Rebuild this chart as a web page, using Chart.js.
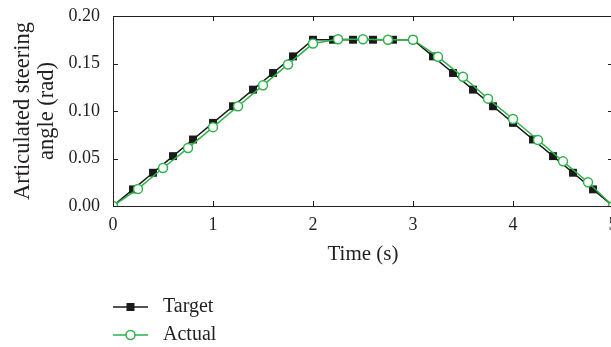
<!DOCTYPE html>
<html>
<head>
<meta charset="utf-8">
<script src="https://cdn.jsdelivr.net/npm/chart.js@4.4.0/dist/chart.umd.min.js"></script>
<style>
    html, body { margin: 0; padding: 0; background: #fff; overflow: hidden; }
    #wrap { width: 625px; height: 347px; }
</style>
</head>
<body>
<div id="wrap"><canvas id="myChart" width="625" height="347"></canvas></div>
<script>
// Dados
const targetTime = [0, 0.2, 0.4, 0.6, 0.8, 1.0, 1.2, 1.4, 1.6, 1.8, 2.0,
    2.2, 2.4, 2.6, 2.8, 3.0, 3.2, 3.4, 3.6, 3.8, 4.0, 4.2, 4.4, 4.6, 4.8, 5.0];
const targetAngle = [0, 0.0175, 0.035, 0.0525, 0.07, 0.0875, 0.105, 0.1225, 0.14, 0.1575, 0.175,
    0.175, 0.175, 0.175, 0.175, 0.175, 0.1575, 0.14, 0.1225, 0.105, 0.0875, 0.07, 0.0525, 0.035, 0.0175, 0];
const actualTime = [0, 0.25, 0.5, 0.75, 1.0, 1.25, 1.5, 1.75, 2.0, 2.25, 2.5,
    2.75, 3.0, 3.25, 3.5, 3.75, 4.0, 4.25, 4.5, 4.75, 5.0];
const actualAngle = [0, 0.018, 0.040, 0.061, 0.083, 0.105, 0.127, 0.149, 0.171, 0.1755, 0.1755,
    0.175, 0.175, 0.157, 0.136, 0.113, 0.0916, 0.0695, 0.047, 0.025, 0];
const xTicks = [0, 1, 2, 3, 4, 5];
const yTicks = [0, 0.05, 0.10, 0.15, 0.20];
const seriesNames = ["Target", "Actual"];

const serif = "'Liberation Serif', 'DejaVu Serif', serif";
const textColor = "#231f20";
const green = "#2db34a";

function toPoints(xs, ys) {
    return xs.map((x, i) => ({ x: x, y: ys[i] }));
}

// Moldura com marcas para dentro (todos os lados)
const frameTicks = {
    id: "frameTicks",
    afterDraw(chart) {
        const { ctx, chartArea: a, scales } = chart;
        const len = 5;
        ctx.save();
        ctx.strokeStyle = "#231f20";
        ctx.lineWidth = 1;
        ctx.strokeRect(a.left + 0.5, a.top + 0.5, a.right - a.left - 1, a.bottom - a.top);
        ctx.beginPath();
        xTicks.forEach((v) => {
            const px = Math.round(scales.x.getPixelForValue(v)) + 0.5;
            ctx.moveTo(px, a.bottom); ctx.lineTo(px, a.bottom - len);
            ctx.moveTo(px, a.top); ctx.lineTo(px, a.top + len);
        });
        yTicks.forEach((v) => {
            const py = Math.round(scales.y.getPixelForValue(v)) + 0.5;
            ctx.moveTo(a.left, py); ctx.lineTo(a.left + len, py);
            ctx.moveTo(a.right, py); ctx.lineTo(a.right - len, py);
        });
        ctx.stroke();
        ctx.restore();
    },
};

// Legenda vertical abaixo do gráfico
const legendaVertical = {
    id: "legendaVertical",
    afterDraw(chart) {
        const ctx = chart.ctx;
        const x0 = 113, x1 = 148, tx = 163;
        const ys = [307, 335];
        ctx.save();
        chart.data.datasets.forEach((ds, i) => {
            const y = ys[i];
            ctx.strokeStyle = ds.borderColor;
            ctx.lineWidth = ds.borderWidth;
            ctx.beginPath();
            ctx.moveTo(x0, y); ctx.lineTo(x1, y);
            ctx.stroke();
            const cx = (x0 + x1) / 2;
            if (ds.pointStyle === "rect") {
                ctx.fillStyle = ds.pointBackgroundColor;
                ctx.fillRect(cx - 4, y - 4, 8, 8);
            } else {
                ctx.fillStyle = "#fff";
                ctx.lineWidth = ds.pointBorderWidth;
                ctx.beginPath();
                ctx.arc(cx, y, 4.5, 0, Math.PI * 2);
                ctx.fill();
                ctx.stroke();
            }
            ctx.fillStyle = textColor;
            ctx.font = "20px " + serif;
            ctx.textBaseline = "middle";
            ctx.fillText(ds.label, tx, y);
        });
        ctx.restore();
    },
};

const ctx = document.querySelector("#myChart");
new Chart(ctx, {
    type: "line",
    data: {
        datasets: [
            {
                label: seriesNames[0],
                data: toPoints(targetTime, targetAngle),
                borderColor: "#1a1a1a",
                borderWidth: 1.5,
                pointStyle: "rect",
                pointRadius: 5.6,
                pointBackgroundColor: "#1a1a1a",
                pointBorderColor: "#1a1a1a",
                pointBorderWidth: 0,
                tension: 0,
                order: 1,
            },
            {
                label: seriesNames[1],
                data: toPoints(actualTime, actualAngle),
                borderColor: green,
                borderWidth: 1.5,
                pointStyle: "circle",
                pointRadius: 4.5,
                pointBackgroundColor: "#fff",
                pointBorderColor: green,
                pointBorderWidth: 1.5,
                tension: 0,
                order: 0,
            },
        ],
    },
    options: {
        responsive: false,
        animation: false,
        layout: { padding: { top: 16, right: 12, left: 0, bottom: 80 } },
        scales: {
            x: {
                type: "linear",
                min: 0,
                max: 5,
                grid: { display: false, drawTicks: false },
                border: { display: false },
                afterBuildTicks: (scale) => { scale.ticks = xTicks.map((v) => ({ value: v })); },
                afterFit: (scale) => {
                    scale.height = 61;
                    scale.paddingLeft = 0;
                    scale.paddingRight = 0;
                },
                ticks: {
                    padding: 8,
                    color: textColor,
                    font: { family: serif, size: 18 },
                    maxRotation: 0,
                },
                title: {
                    display: true,
                    text: "Time (s)",
                    color: textColor,
                    font: { family: serif, size: 21 },
                    padding: { top: 0, bottom: 0 },
                },
            },
            y: {
                min: 0,
                max: 0.2,
                grid: { display: false, drawTicks: false },
                border: { display: false },
                afterBuildTicks: (scale) => { scale.ticks = yTicks.map((v) => ({ value: v })); },
                afterFit: (scale) => {
                    scale.width = 113;
                    scale.paddingTop = 0;
                    scale.paddingBottom = 0;
                },
                ticks: {
                    padding: 13,
                    color: textColor,
                    font: { family: serif, size: 18 },
                    callback: (v) => Number(v).toFixed(2),
                },
                title: {
                    display: true,
                    text: ["Articulated steering", "angle (rad)"],
                    color: textColor,
                    font: { family: serif, size: 22.5, lineHeight: 1.07 },
                    padding: { top: 11, bottom: 0 },
                },
            },
        },
        plugins: {
            legend: { display: false },
            tooltip: { enabled: false },
        },
    },
    plugins: [frameTicks, legendaVertical],
});
</script>
</body>
</html>
